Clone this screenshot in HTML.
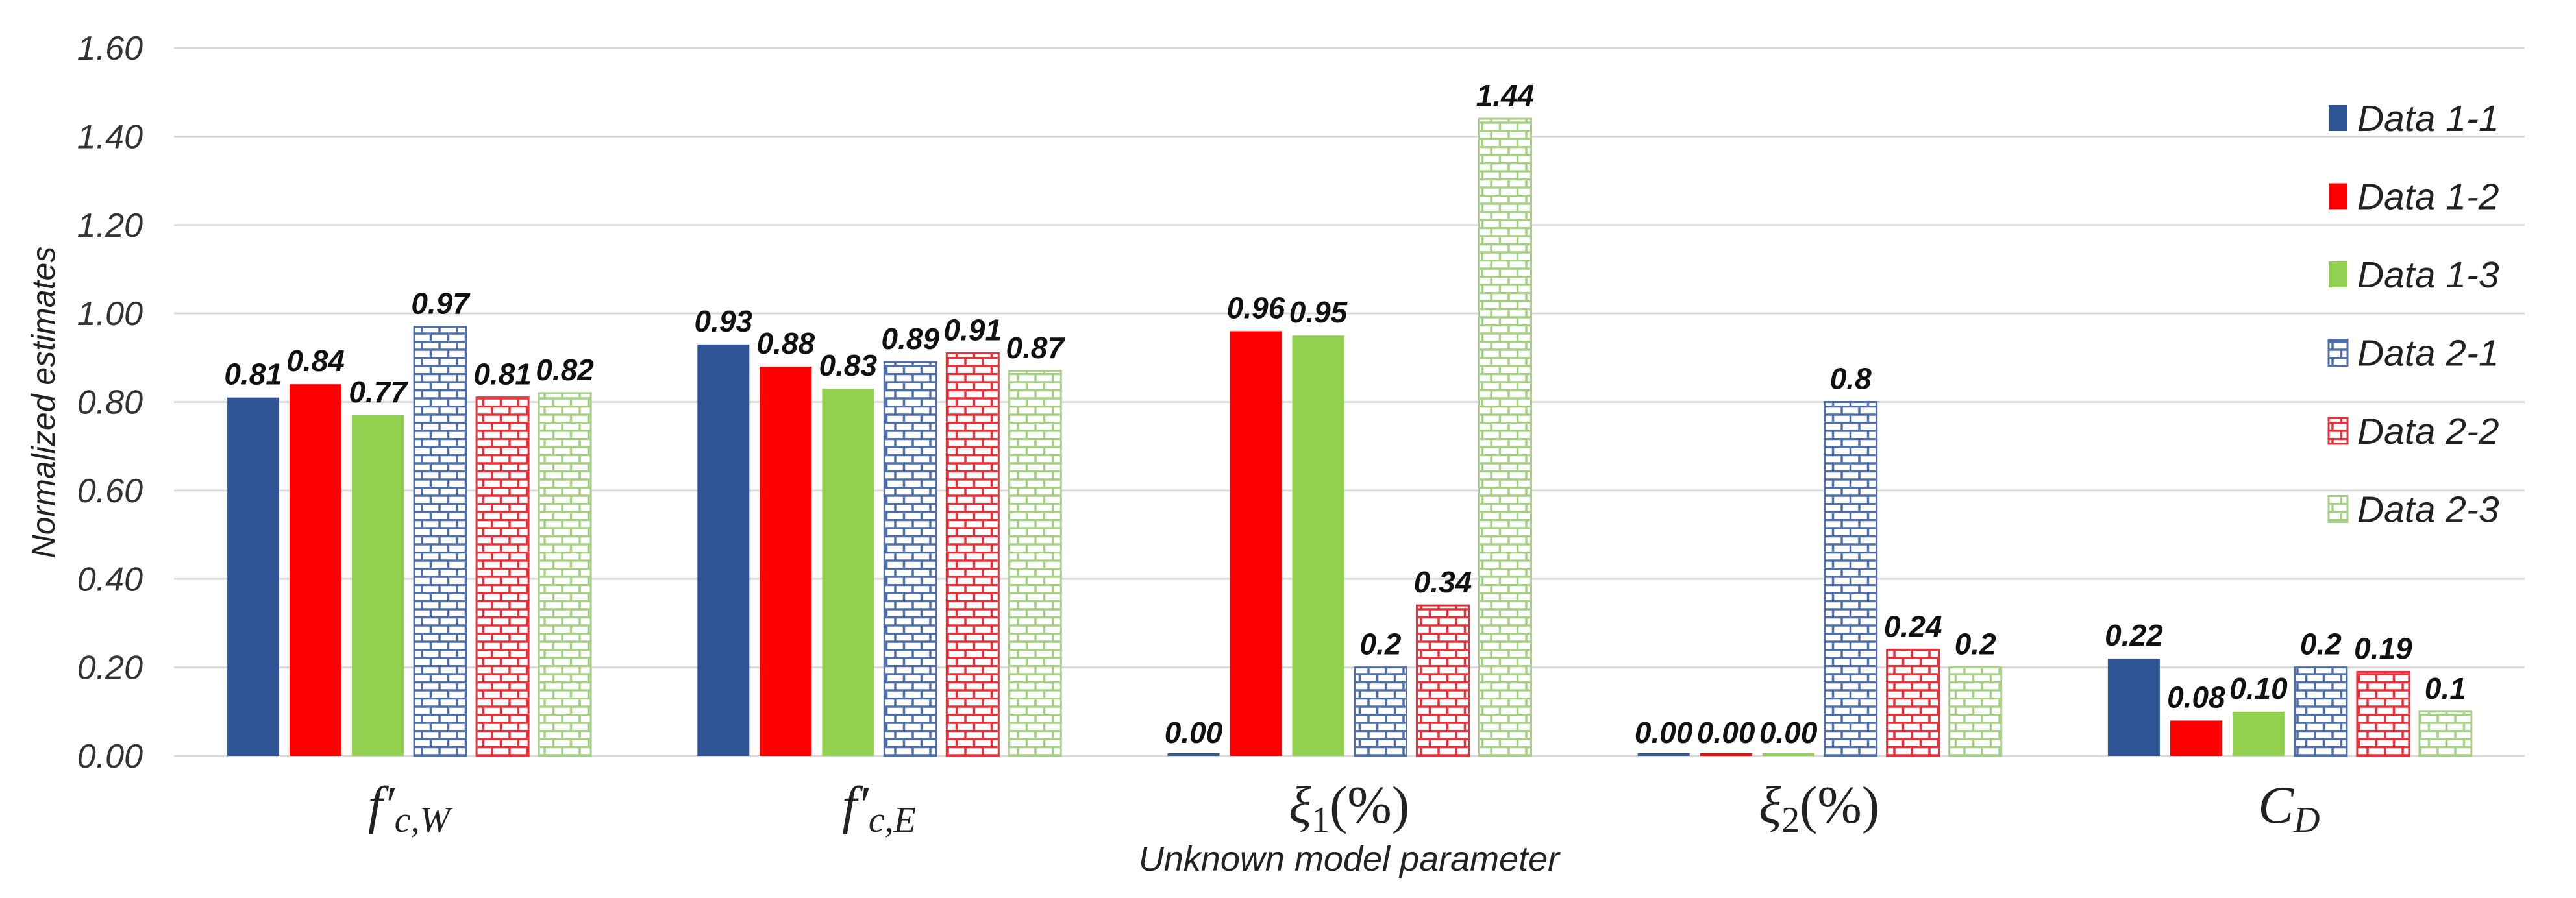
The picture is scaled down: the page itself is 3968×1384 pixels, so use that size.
<!DOCTYPE html>
<html><head><meta charset="utf-8">
<style>
html,body{margin:0;padding:0;background:#fff;}
svg{display:block;}
text{font-family:"Liberation Sans",sans-serif;}
#xcats text{font-family:"Liberation Serif",serif;}
</style></head>
<body>
<svg id="chart" width="3968" height="1384" viewBox="0 0 3968 1384" xmlns="http://www.w3.org/2000/svg">
<defs>
<pattern id="brick-blue" patternUnits="userSpaceOnUse" width="27" height="25">
<rect width="27" height="25" fill="#fff"/>
<path d="M0 1.5H27M0 14H27M2 0V14M15.5 14V25" stroke="#4f6fa8" stroke-width="3.5" fill="none"/>
</pattern>
<pattern id="brick-red" patternUnits="userSpaceOnUse" width="27" height="25">
<rect width="27" height="25" fill="#fff"/>
<path d="M0 1.5H27M0 14H27M2 0V14M15.5 14V25" stroke="#e8303a" stroke-width="3.5" fill="none"/>
</pattern>
<pattern id="brick-green" patternUnits="userSpaceOnUse" width="27" height="25">
<rect width="27" height="25" fill="#fff"/>
<path d="M0 1.5H27M0 14H27M2 0V14M15.5 14V25" stroke="#a6cf86" stroke-width="3.5" fill="none"/>
</pattern>
</defs>
<g id="grid"></g>
<g id="yticks"></g>
<g id="bars"></g>
<g id="vlabels"></g>
<g id="xcats" font-style="italic" font-size="82" fill="#222">
<text x="630" y="1268" text-anchor="middle">f′<tspan font-size="56" dy="14">c,W</tspan></text>
<text x="1354" y="1268" text-anchor="middle">f′<tspan font-size="56" dy="14">c,E</tspan></text>
<text x="2078" y="1268" text-anchor="middle">ξ<tspan font-size="56" dy="14" font-style="normal">1</tspan><tspan dy="-14" font-style="normal">(%)</tspan></text>
<text x="2802" y="1268" text-anchor="middle">ξ<tspan font-size="56" dy="14" font-style="normal">2</tspan><tspan dy="-14" font-style="normal">(%)</tspan></text>
<text x="3526" y="1268" text-anchor="middle">C<tspan font-size="56" dy="14">D</tspan></text>
</g>
<text x="2078" y="1342" text-anchor="middle" font-size="54" font-style="italic" fill="#222">Unknown model parameter</text>
<text transform="translate(84,620) rotate(-90)" text-anchor="middle" font-size="50" font-style="italic" fill="#222">Normalized estimates</text>
<g id="legend"></g>
</svg>
<script>
const categories = ["fcW","fcE","xi1","xi2","CD"];
const seriesNames = ["Data 1-1","Data 1-2","Data 1-3","Data 2-1","Data 2-2","Data 2-3"];
const data11 = [0.81,0.93,0.00,0.00,0.22];
const data12 = [0.84,0.88,0.96,0.00,0.08];
const data13 = [0.77,0.83,0.95,0.00,0.10];
const data21 = [0.97,0.89,0.20,0.80,0.20];
const data22 = [0.81,0.91,0.34,0.24,0.19];
const data23 = [0.82,0.87,1.44,0.20,0.10];
const labels11 = ["0.81","0.93","0.00","0.00","0.22"];
const labels12 = ["0.84","0.88","0.96","0.00","0.08"];
const labels13 = ["0.77","0.83","0.95","0.00","0.10"];
const labels21 = ["0.97","0.89","0.2","0.8","0.2"];
const labels22 = ["0.81","0.91","0.34","0.24","0.19"];
const labels23 = ["0.82","0.87","1.44","0.2","0.1"];
const yTicks = [0,0.2,0.4,0.6,0.8,1.0,1.2,1.4,1.6];
const yTickLabels = ["0.00","0.20","0.40","0.60","0.80","1.00","1.20","1.40","1.60"];

const NS="http://www.w3.org/2000/svg";
const series=[data11,data12,data13,data21,data22,data23];
const seriesLabels=[labels11,labels12,labels13,labels21,labels22,labels23];
const fills=["#2f5597","#ff0000","#92d050","url(#brick-blue)","url(#brick-red)","url(#brick-green)"];
const strokes=[null,null,null,"#4f6fa8","#e8303a","#a6cf86"];
const x0=268,x1=3889,y0=1165,yTop=74,yMax=1.6;
const yScale=v=>y0-(v/yMax)*(y0-yTop);
const groupW=(x1-x0)/categories.length;
const xCenter=i=>x0+groupW*(i+0.5);
const pitch=96,barW=80;
const xBar=(i,s)=>xCenter(i)+(s-2.5)*pitch-barW/2;
function mk(tag,attrs,parent){const e=document.createElementNS(NS,tag);for(const k in attrs)e.setAttribute(k,attrs[k]);parent.appendChild(e);return e;}

const grid=document.getElementById('grid'),yt=document.getElementById('yticks');
yTicks.forEach((t,k)=>{
  const l=mk('line',{x1:x0,x2:x1,y1:yScale(t),y2:yScale(t),stroke:"#d9d9d9","stroke-width":3},grid);
  
  
  const tx=mk('text',{x:220,y:yScale(t)+18,"text-anchor":"end","font-size":52,"font-style":"italic",fill:"#333"},yt);
  tx.textContent=yTickLabels[k];
  
  
});
const bars=document.getElementById('bars'),vl=document.getElementById('vlabels');
series.forEach((arr,s)=>{
  arr.forEach((v,i)=>{
    const x=xBar(i,s);let y=yScale(v);let h=y0-y;
    if(h<4){h=4;y=y0-4;}
    const a={x:x,y:y,width:barW,height:h,fill:fills[s]};
    if(strokes[s]){a.stroke=strokes[s];a["stroke-width"]=3;}
    const r=mk('rect',a,bars);
    
    
    const t=mk('text',{x:x+barW/2,y:yScale(v)-20,"text-anchor":"middle","font-size":46,"font-weight":"bold","font-style":"italic",fill:"#111"},vl);
    t.textContent=seriesLabels[s][i];
    
    
  });
});
const lg=document.getElementById('legend');
seriesNames.forEach((n,s)=>{
  const y=182+s*120.5;
  const g=mk('g',{},lg);
  
  
  const a={x:3587,y:y-20,width:29,height:40,fill:fills[s]};
  if(strokes[s]){a.stroke=strokes[s];a["stroke-width"]=3;}
  const r=mk('rect',a,g);
  
  
  const t=mk('text',{x:3631,y:y+20,"font-size":57,"font-style":"italic",fill:"#222"},g);
  t.textContent=n;
  
  
});
</script>
</body></html>
